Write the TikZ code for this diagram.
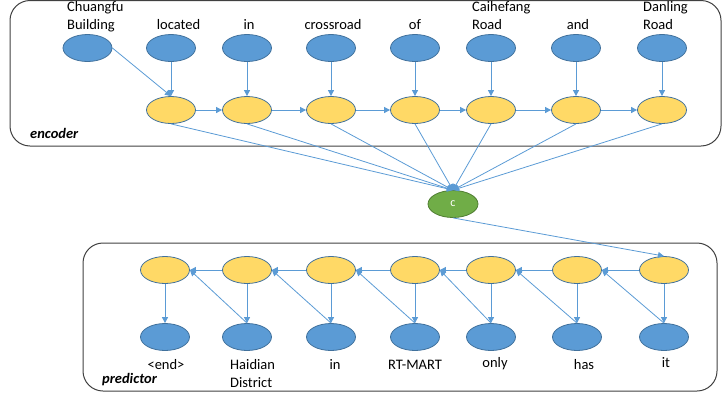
\documentclass[tikz,border=0pt]{standalone}
\usepackage{fontspec}
\setmainfont{Carlito}
\usetikzlibrary{shapes.geometric,arrows.meta}
\definecolor{bluefill}{HTML}{5B9BD5}
\definecolor{blueline}{HTML}{41719C}
\definecolor{yellowfill}{HTML}{FFD966}
\definecolor{greenfill}{HTML}{70AD47}
\definecolor{greenline}{HTML}{507E32}
\definecolor{arrowc}{HTML}{5B9BD5}
\definecolor{boxline}{HTML}{404040}
\begin{document}
\begin{tikzpicture}[x=1pt,y=-1pt,
  word/.style={ellipse,draw=blueline,fill=bluefill,line width=0.8pt,minimum width=49pt,minimum height=27pt,inner sep=0pt},
  hid/.style={ellipse,draw=blueline,fill=yellowfill,line width=0.8pt,minimum width=49pt,minimum height=27pt,inner sep=0pt},
  ctx/.style={ellipse,draw=greenline,fill=greenfill,line width=0.8pt,minimum width=50pt,minimum height=27pt,inner sep=0pt,text=white,font=\fontsize{12}{14}\selectfont},
  lbl/.style={font=\fontsize{14.5}{18}\selectfont,inner sep=0pt,anchor=base,align=center},
  lbl2/.style={font=\fontsize{14.5}{18}\selectfont,inner sep=0pt,anchor=base west,align=left},
  tag/.style={font=\fontsize{14.5}{18}\selectfont\bfseries\itshape,inner sep=0pt,anchor=base west},
  arr/.style={draw=arrowc,line width=0.8pt,-{Triangle[length=6pt,width=6pt]}},
  panel/.style={draw=boxline,line width=1pt,rounded corners=20pt}
]
\useasboundingbox (0,0) rectangle (723,394);
% panels
\draw[panel] (10,0.5) rectangle (721,146);
\draw[panel] (83,243) rectangle (717,391);
\node[tag] (enc) at (30,138) {encoder};
\node[tag] (pred) at (102,383) {predictor};

% encoder words
\node[word] (w1) at (87.5,48) {};
\node[word] (w2) at (171,48) {};
\node[word] (w3) at (247,48) {};
\node[word] (w4) at (331,48) {};
\node[word] (w5) at (415,48) {};
\node[word] (w6) at (491,48) {};
\node[word] (w7) at (576,48) {};
\node[word] (w8) at (662,48) {};
\node[lbl2] (l1) at (67,29.5) {Chuangfu\\Building};
\node[lbl] (l2) at (178.5,29.5) {located};
\node[lbl] (l3) at (249,29.5) {in};
\node[lbl] (l4) at (333,29.5) {crossroad};
\node[lbl] (l5) at (415,29.5) {of};
\node[lbl2] (l6) at (472,29.5) {Caihefang\\Road};
\node[lbl] (l7) at (578,29.5) {and};
\node[lbl2] (l8) at (643,29.5) {Danling\\Road};

% encoder hidden
\node[hid] (h1) at (171,110) {};
\node[hid] (h2) at (247,110) {};
\node[hid] (h3) at (331,110) {};
\node[hid] (h4) at (415,110) {};
\node[hid] (h5) at (491,110) {};
\node[hid] (h6) at (576,110) {};
\node[hid] (h7) at (662,110) {};

% context
\node[ctx] (c) at (453,204) {c};

% encoder arrows
\draw[arr] (w1.east) -- (h1.north);
\foreach \i/\j in {2/1,3/2,4/3,5/4,6/5,7/6,8/7}{
  \draw[arr] (w\i.south) -- (h\j.north);
}
\foreach \i/\j in {1/2,2/3,3/4,4/5,5/6,6/7}{
  \draw[arr] (h\i.east) -- (h\j.west);
}
\foreach \i in {1,...,7}{
  \draw[arr] (h\i.south) -- (c.north);
}

% predictor hidden and outputs
\node[hid] (p1) at (165,270) {};
\node[hid] (p2) at (247,270) {};
\node[hid] (p3) at (331,270) {};
\node[hid] (p4) at (415,270) {};
\node[hid] (p5) at (491,270) {};
\node[hid] (p6) at (577,270) {};
\node[hid] (p7) at (664,270) {};
\node[word] (o1) at (165,337) {};
\node[word] (o2) at (247,337) {};
\node[word] (o3) at (331,337) {};
\node[word] (o4) at (415,337) {};
\node[word] (o5) at (491,337) {};
\node[word] (o6) at (577,337) {};
\node[word] (o7) at (664,337) {};
\node[lbl] (m1) at (166,369) {<end>};
\node[lbl2] (m2) at (230,387) {Haidian\\District};
\node[lbl] (m3) at (335,369) {in};
\node[lbl] (m4) at (415,369) {RT-MART};
\node[lbl] (m5) at (495,367) {only};
\node[lbl] (m6) at (584,369) {has};
\node[lbl] (m7) at (666,367) {it};

\draw[arr] (c.south) -- (p7.north);
\foreach \i in {1,...,7}{
  \draw[arr] (p\i.south) -- (o\i.north);
}
\foreach \i/\j in {2/1,3/2,4/3,5/4,6/5,7/6}{
  \draw[arr] (p\i.west) -- (p\j.east);
  \draw[arr] (o\i.north) -- (p\j.east);
}
\end{tikzpicture}
\end{document}
